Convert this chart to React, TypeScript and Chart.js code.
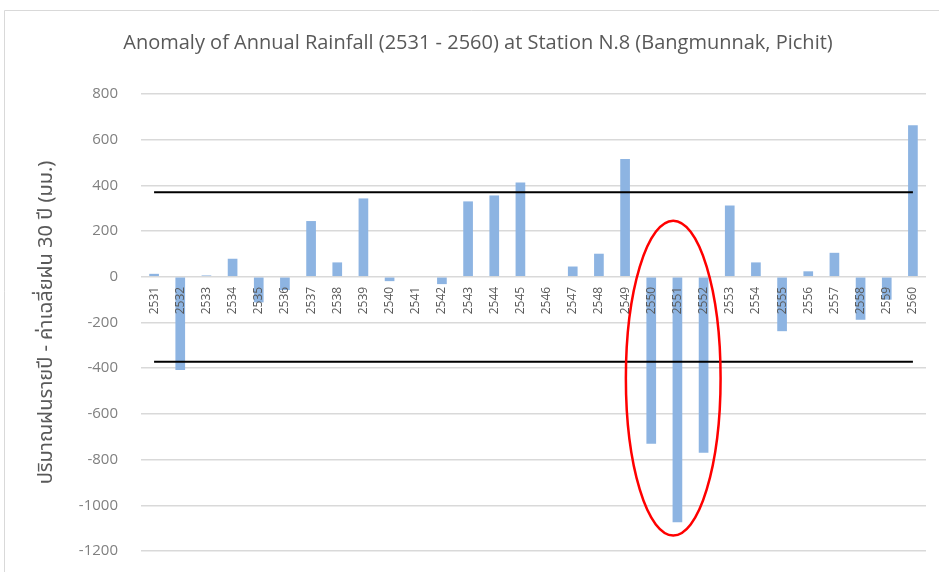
import React, { useEffect, useRef } from "react";
import { Chart, registerables } from "chart.js";

Chart.register(...registerables);

const years: string[] = [
  "2531", "2532", "2533", "2534", "2535", "2536", "2537", "2538", "2539", "2540",
  "2541", "2542", "2543", "2544", "2545", "2546", "2547", "2548", "2549", "2550",
  "2551", "2552", "2553", "2554", "2555", "2556", "2557", "2558", "2559", "2560",
];

const anomaly: number[] = [
  13, -408, 6, 79, -112, -58, 244, 63, 343, -19,
  0, -32, 330, 356, 413, 0, 45, 101, 516, -731,
  -1074, -770, 312, 63, -238, 24, 105, -188, -100, 663,
];

const upperLimit = 370;
const lowerLimit = -372;

const yMin = -1200;
const yMax = 800;
const yStep = 200;

const titleText = "Anomaly of Annual Rainfall (2531 - 2560) at Station N.8 (Bangmunnak, Pichit)";
const yTitleText = "ปริมาณฝนรายปี - ค่าเฉลี่ยฝน 30 ปี (มม.)";

// highlighted years (red ellipse)
const highlightYears: string[] = ["2550", "2551", "2552"];
const highlightTop = 245;
const highlightBottom = -1132;

const frameAndEllipse = {
  id: "frameAndEllipse",
  beforeDraw(chart: any) {
    const { ctx } = chart;
    ctx.save();
    ctx.fillStyle = "#ffffff";
    ctx.fillRect(0, 0, chart.width, chart.height);
    ctx.strokeStyle = "#d9d9d9";
    ctx.lineWidth = 1;
    ctx.beginPath();
    ctx.moveTo(4.5, chart.height);
    ctx.lineTo(4.5, 10.5);
    ctx.lineTo(chart.width, 10.5);
    ctx.stroke();
    ctx.restore();
  },
  afterDraw(chart: any) {
    const { ctx, scales } = chart;
    const x = scales.x;
    const y = scales.y;
    const i0 = years.indexOf(highlightYears[0]);
    const i1 = years.indexOf(highlightYears[highlightYears.length - 1]);
    const xa = x.getPixelForValue(i0);
    const xb = x.getPixelForValue(i1);
    const step = (xb - xa) / Math.max(1, i1 - i0);
    const cx = (xa + xb) / 2 - step * 0.16;
    const rx = (xb - xa) / 2 + step * 0.81;
    const yt = y.getPixelForValue(highlightTop);
    const yb = y.getPixelForValue(highlightBottom);
    const cy = (yt + yb) / 2;
    const ry = (yb - yt) / 2;
    ctx.save();
    ctx.strokeStyle = "#ff0000";
    ctx.lineWidth = 2.5;
    ctx.beginPath();
    ctx.ellipse(cx, cy, rx, ry, 0, 0, Math.PI * 2);
    ctx.stroke();
    ctx.restore();
  },
};

export default function App() {
  const ref = useRef<HTMLCanvasElement | null>(null);

  useEffect(() => {
    if (!ref.current) return;
    const chart = new Chart(ref.current, {
      type: "bar",
      data: {
        labels: years,
        datasets: [
          {
            type: "line",
            label: "upper",
            data: years.map(() => upperLimit),
            borderColor: "#000000",
            borderWidth: 2,
            pointRadius: 0,
            fill: false,
            order: 0,
          } as any,
          {
            type: "line",
            label: "lower",
            data: years.map(() => lowerLimit),
            borderColor: "#000000",
            borderWidth: 2,
            pointRadius: 0,
            fill: false,
            order: 0,
          } as any,
          {
            type: "bar",
            label: "anomaly",
            data: anomaly,
            backgroundColor: "#8db4e2",
            barPercentage: 0.37,
            categoryPercentage: 1,
            order: 1,
          },
        ],
      },
      options: {
        animation: false,
        responsive: false,
        maintainAspectRatio: false,
        layout: { padding: { top: 22, right: 13, bottom: 21, left: 30 } },
        plugins: {
          legend: { display: false },
          tooltip: { enabled: false },
          title: {
            display: true,
            text: titleText,
            color: "#595959",
            font: { family: "'Open Sans', sans-serif", size: 20, weight: "normal" },
            padding: { top: 9, bottom: 39 },
          },
        },
        scales: {
          x: {
            position: { y: 0 } as any,
            grid: { display: false, drawTicks: false },
            border: { display: false },
            ticks: {
              z: 1,
              color: "#595959",
              font: { family: "'Open Sans', sans-serif", size: 12 },
              minRotation: 90,
              maxRotation: 90,
              padding: 10,
              autoSkip: false,
            },
          } as any,
          y: {
            min: yMin,
            max: yMax,
            grid: { color: "#d9d9d9", lineWidth: 1.5, drawTicks: true, tickLength: 20, tickColor: "rgba(0,0,0,0)" },
            border: { display: false },
            ticks: {
              stepSize: yStep,
              color: "#808080",
              font: { family: "'Open Sans', sans-serif", size: 15 },
              padding: 3,
              callback: (v: any) => String(v),
            },
            title: {
              display: true,
              text: yTitleText,
              color: "#595959",
              font: { family: "'Noto Sans Thai', 'Noto Sans', sans-serif", size: 20, weight: "normal" },
              padding: { top: 6, bottom: 0 },
            },
            afterFit(scale: any) {
              scale.width = 111;
            },
          },
        },
      },
      plugins: [frameAndEllipse],
    });
    return () => chart.destroy();
  }, []);

  return (
    <div style={{ position: "fixed", left: 0, top: 0, width: 939, height: 572, background: "#fff" }}>
      <canvas ref={ref} width={939} height={572} style={{ display: "block" }} />
    </div>
  );
}
